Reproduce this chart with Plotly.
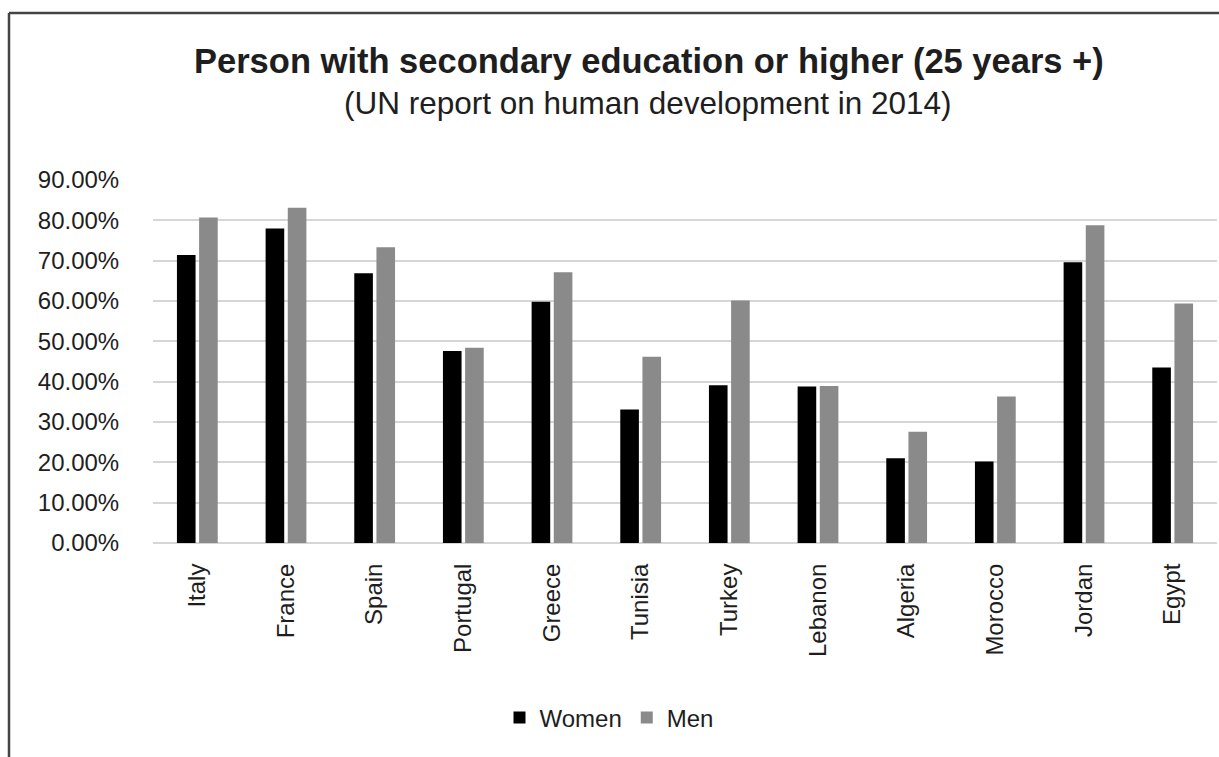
import plotly.graph_objects as go

# Share of population aged 25+ with at least secondary education
countries = ["Italy", "France", "Spain", "Portugal", "Greece", "Tunisia",
             "Turkey", "Lebanon", "Algeria", "Morocco", "Jordan", "Egypt"]
women = [0.714, 0.780, 0.669, 0.476, 0.598, 0.331,
         0.391, 0.388, 0.210, 0.202, 0.696, 0.435]
men = [0.807, 0.831, 0.733, 0.484, 0.671, 0.462,
       0.601, 0.389, 0.276, 0.363, 0.788, 0.594]
y_ticks = [0, 0.1, 0.2, 0.3, 0.4, 0.5, 0.6, 0.7, 0.8, 0.9]

W, H = 1219, 757
L, R, T, B = 153, 2, 180, 214
pw, ph = W - L - R, H - T - B


def px_x(x):
    return (x - L) / pw


def px_y(y):
    return (H - B - y) / ph


FONT = "Liberation Sans, Arial, sans-serif"
TXT = "#1e1e1e"

fig = go.Figure()
fig.add_bar(x=countries, y=women, name="Women", marker_color="#000000",
            marker_line_width=0)
fig.add_bar(x=countries, y=men, name="Men", marker_color="#8a8a8a",
            marker_line_width=0)

fig.update_layout(
    width=W, height=H,
    margin=dict(l=L, r=R, t=T, b=B, pad=0),
    paper_bgcolor="white", plot_bgcolor="white",
    barmode="group", bargap=0.5, bargroupgap=0.16,
    font=dict(family=FONT, color=TXT, size=24),
    showlegend=True,
    legend=dict(orientation="h", x=px_x(609), y=px_y(718),
                xanchor="center", yanchor="middle",
                font=dict(size=24, color=TXT), itemwidth=30,
                bgcolor="rgba(0,0,0,0)"),
    xaxis=dict(tickangle=-90, ticks="outside", ticklen=10,
               tickcolor="rgba(0,0,0,0)", showline=False, showgrid=False,
               tickfont=dict(size=24, color=TXT)),
    yaxis=dict(range=[0, 0.9], tickvals=y_ticks, tickformat=".2%",
               showgrid=True, gridcolor="#d6d6d6", gridwidth=2,
               zeroline=True, zerolinecolor="#d6d6d6", zerolinewidth=2,
               ticks="outside", ticklen=28, tickcolor="rgba(0,0,0,0)",
               showline=False, tickfont=dict(size=24, color=TXT)),
    annotations=[
        dict(text="<b>Person with secondary education or higher (25 years +)</b>",
             xref="paper", yref="paper", x=px_x(649), y=px_y(61),
             xanchor="center", yanchor="middle", showarrow=False,
             font=dict(size=34.5, color=TXT, family=FONT)),
        dict(text="(UN report on human development in 2014)",
             xref="paper", yref="paper", x=px_x(648), y=px_y(103),
             xanchor="center", yanchor="middle", showarrow=False,
             font=dict(size=31.5, color=TXT, family=FONT)),
    ],
    shapes=[
        dict(type="line", xref="paper", yref="paper",
             x0=px_x(9), x1=px_x(9), y0=px_y(13), y1=px_y(H + 5),
             line=dict(color="#444444", width=2.5)),
        dict(type="line", xref="paper", yref="paper",
             x0=px_x(9), x1=px_x(W + 5), y0=px_y(13), y1=px_y(13),
             line=dict(color="#444444", width=2.5)),
    ],
)

fig.write_html("out.html")
